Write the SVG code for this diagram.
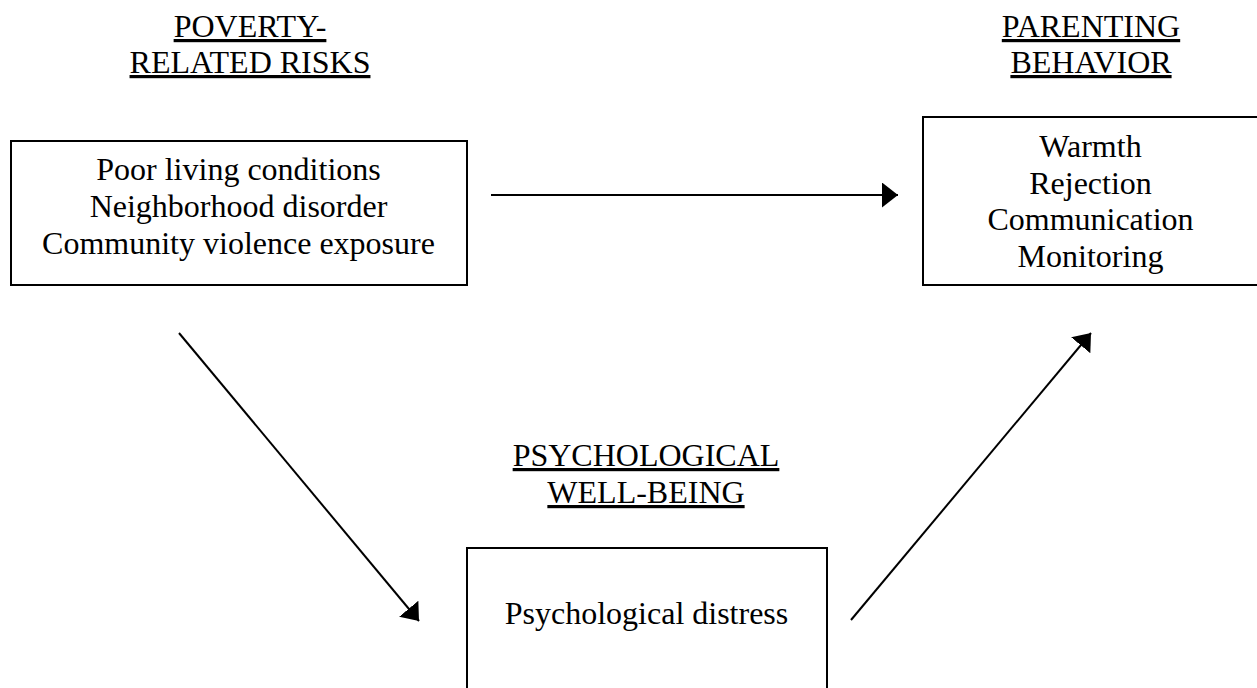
<svg xmlns="http://www.w3.org/2000/svg" width="1257" height="688" viewBox="0 0 1257 688">
<style>
text{font-family:"Liberation Serif","Times New Roman",serif;font-size:32px;fill:#000;text-anchor:middle}
.t{text-decoration:underline}
.box{fill:#fff;stroke:#000;stroke-width:2}
.c{stroke:#000;stroke-width:2;fill:none}
</style>
<defs>
<marker id="ah" viewBox="0 0 16 25" refX="16" refY="12.5" markerWidth="16" markerHeight="25" markerUnits="userSpaceOnUse" orient="auto">
<path d="M0,0 L16,12.5 L0,25 Z" fill="#000"/>
</marker>
</defs>
<rect width="1257" height="688" fill="#fff"/>
<g id="poverty">
<text class="t" x="250" y="37">POVERTY-</text>
<text class="t" x="250" y="73">RELATED RISKS</text>
<rect class="box" x="11" y="141" width="456" height="144"/>
<text x="238.5" y="180">Poor living conditions</text>
<text x="238.5" y="217">Neighborhood disorder</text>
<text x="238.5" y="254">Community violence exposure</text>
</g>
<g id="parenting">
<text class="t" x="1091" y="37">PARENTING</text>
<text class="t" x="1091" y="73">BEHAVIOR</text>
<rect class="box" x="923" y="117" width="360" height="168"/>
<text x="1090.5" y="157">Warmth</text>
<text x="1090.5" y="193.5">Rejection</text>
<text x="1090.5" y="230">Communication</text>
<text x="1090.5" y="266.5">Monitoring</text>
</g>
<g id="wellbeing">
<text class="t" x="646" y="466">PSYCHOLOGICAL</text>
<text class="t" x="646" y="503">WELL-BEING</text>
<rect class="box" x="467" y="548" width="360" height="160"/>
<text x="646.5" y="624">Psychological distress</text>
</g>
<g id="connectors">
<line class="c" x1="491" y1="195" x2="898" y2="195" marker-end="url(#ah)"/>
<line class="c" x1="179" y1="333" x2="419" y2="621" marker-end="url(#ah)"/>
<line class="c" x1="851" y1="620" x2="1091" y2="333" marker-end="url(#ah)"/>
</g>
</svg>
